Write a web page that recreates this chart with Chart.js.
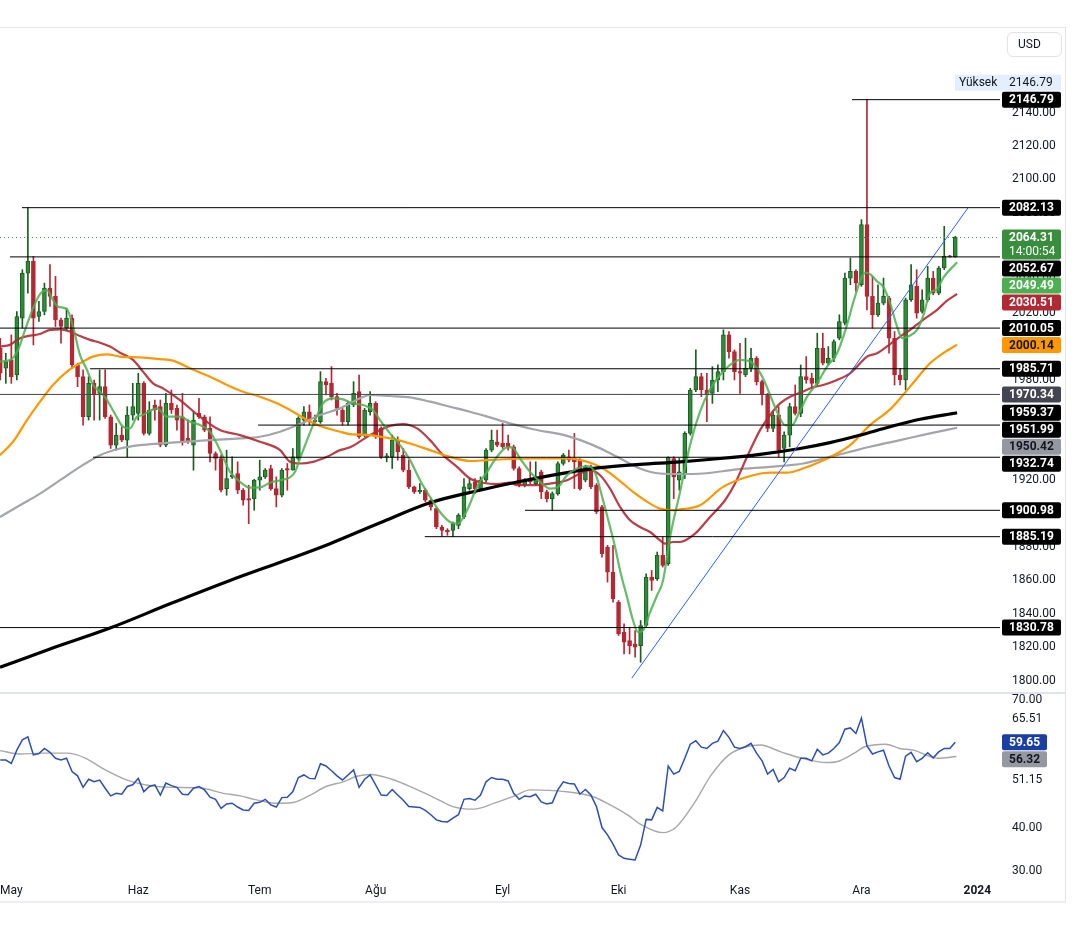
<!DOCTYPE html>
<html>
<head>
<meta charset="utf-8">
<script src="https://cdn.jsdelivr.net/npm/chart.js@4.4.1/dist/chart.umd.min.js"></script>
<style>
  html,body{margin:0;background:#fff;}
  body{width:1077px;height:939px;position:relative;overflow:hidden;font-family:Roboto,"Noto Sans",sans-serif;}
  .frame{position:absolute;left:0;top:27px;width:1066px;height:876px;border-top:1px solid #e0e3eb;border-right:1px solid #e0e3eb;border-bottom:2px solid #eceef3;box-sizing:border-box;}
  .sep{position:absolute;left:0;top:692px;width:1066px;height:2px;background:#e0e3eb;}
  canvas{position:absolute;left:0;}
  #price{top:28px;}
  #rsi{top:694px;}
  .usd{position:absolute;left:1007px;top:32px;width:55px;height:25px;box-sizing:border-box;border:1px solid #e0e3eb;border-radius:6px;font-size:12px;line-height:23px;padding-left:10px;color:#131722;}
</style>
</head>
<body>
<div class="frame"></div>
<canvas id="price" width="1066" height="665"></canvas>
<div class="sep"></div>
<canvas id="rsi" width="1066" height="207"></canvas>
<div class="usd">USD</div>
<script>
// daily bars, bar 0 = 1 May 2023, first bar = 27 Apr, last = 26 Dec
const firstBar = -2;
const opens = [
1998,1986,1991,1982,2016,2043,2050,2017,2020,2034,
2029,2015,2010,2016,1988,1981,1957,1977,1971,1975,
1957,1940,1946,1943,1958,1959,1977,1947,1964,1963,
1940,1965,1962,1957,1944,1940,1959,1957,1950,1935,
1932,1914,1921,1923,1913,1908,1908,1919,1921,1926,
1914,1910,1926,1925,1932,1955,1960,1955,1954,1978,
1977,1969,1961,1954,1964,1972,1946,1960,1965,1950,
1933,1933,1943,1934,1925,1915,1912,1913,1907,1902,
1891,1889,1889,1892,1897,1914,1918,1914,1919,1937,
1942,1941,1941,1939,1926,1916,1920,1917,1924,1912,
1908,1911,1929,1933,1932,1931,1919,1927,1916,1903,
1879,1864,1846,1828,1823,1821,1820,1832,1861,1860,
1874,1869,1932,1919,1923,1947,1973,1981,1973,1971,
1979,1984,2006,1996,1984,1982,1986,1992,1978,1970,
1950,1958,1938,1946,1963,1959,1981,1980,1977,1998,
1989,1992,2004,2013,2040,2044,2036,2072,2029,2018,
2025,2028,2004,1982,1979,2027,2035,2020,2027,2040,
2031,2046,2053.2,2052.7];
const highs = [
2004,1995,2006,2020,2045,2082.13,2053,2026,2037,2048,
2041,2016,2022,2018,1989,1985,1981,1979,1985,1985,
1958,1953,1951,1963,1977,1983,1978,1966,1967,1967,
1971,1973,1964,1971,1955,1960,1968,1958,1957,1936,
1934,1937,1933,1930,1914,1916,1919.5,1931,1926,1928,
1921,1926,1929,1938,1957,1963,1964,1958,1984,1980,
1987,1971,1962,1966,1978,1982,1962,1972,1966,1951,
1935,1946,1945,1938,1931,1915.5,1917,1914,1908,1902.5,
1892,1890,1894,1899,1920,1920,1920,1921,1938,1949,
1949,1953,1946,1940,1927,1920,1930,1930,1925,1913,
1912,1930,1935,1937,1947,1932,1928,1928,1917,1904,
1880,1880,1847,1833,1831,1829,1835,1863,1865,1876,
1885,1933,1933,1932,1948,1974,1997,1983,1983,1987,
1988,2009,2008,1997,2001,2004,1998,1993,1979,1971,
1960,1963,1948,1965,1976,1988,1993,1983,2007,2007,
1999,2003,2018,2043,2052,2045,2075,2146.79,2041,2036,
2040,2029,2008,1986,2028,2048,2045,2033,2047,2044,
2047,2071,2053.6,2065];
const lows = [
1979,1977,1977,1979,2010,2031,2000,2014,2018,2023,
2011,2001,2009,1986,1975,1952,1955,1955,1955,1956,
1938,1937,1942,1932.8,1955,1955,1946,1946,1955,1939,
1939,1959,1949,1940,1941,1925,1956,1948,1930,1925,
1912,1910,1920,1911,1904,1893,1901,1913,1920,1913,
1903,1909,1913,1925,1931,1952,1952,1952,1953,1970,
1967,1958,1952,1952,1963,1944,1945,1958,1944,1932,
1930,1926,1931,1924,1914,1911,1911,1906,1901,1890,
1885.5,1886,1885.19,1890,1896,1913,1911,1913,1918,1936,
1939,1938,1937,1925,1915,1915,1917,1916,1908,1906,
1901,1910,1928,1930,1914,1913,1918,1914,1899,1873,
1858,1846,1826,1815,1815,1813,1810,1831,1853,1859,
1867,1868,1908,1913,1920,1946,1972,1969,1954,1965,
1972,1979,1992,1979,1971,1981,1984,1976,1964,1948,
1948,1933,1930,1939,1958,1957,1977,1974,1976,1988,
1988,1990,2003,2012,2036,2032,2035,2021,2010,2017,
2024,1995,1976,1976,1973,2026,2016,2019,2026,2030,
2030,2045,2052.5,2052.5];
const closes = [
1983,1990,1981,2017,2043,2050,2016,2020,2034,2029,
2015,2011,2016,1988,1981,1957,1977,1970,1975,1957,
1940,1946,1943,1958,1963,1977,1947,1961,1961,1940,
1965,1961,1955,1942,1942,1955,1957,1949,1935,1932,
1913,1920,1922,1913,1907,1907,1919,1921,1925,1914,
1910,1925,1925,1933,1956,1960,1955,1954,1978,1976,
1969,1962,1954,1965,1971,1945,1961,1965,1945,1933,
1933.5,1943,1936,1925,1915,1912,1913,1907,1903,1891,
1889,1888,1893,1898,1915,1917,1914,1919,1937,1943,
1940,1939,1939,1926,1916,1919,1918,1921,1912,1908,
1911,1929,1934,1931,1930,1914,1927,1915,1900,1875,
1864,1848,1827,1822,1820,1819,1832,1861,1859,1874,
1868,1932.74,1921,1924,1947,1973,1981,1973,1970,1979,
1984,2006,1996,1984,1983,1986,1992,1978,1970,1950,
1958,1937,1946,1963,1959,1981,1979,1977,1998,1989,
1992,2002,2014,2040,2044,2037,2072,2029,2018,2025,
2029,2004,1982,1979,2027,2036,2019,2027,2040,2031,
2046,2053,2052.67,2064.31];

// moving averages (bar position, value)
const fastAt = [-2.05,-0.24,1.21,2.48,3.93,5.2,6.47,7.55,8.46,10.09,11.18,12.45,13.71,14.8,16.07,17.34,18.79,20.24,21.5,22.77,23.86,25.13,26.39,28.2,30.56,32.37,34.18,35.99,37.81,39.62,41.43,43.24,45.05,46.87,48.68,50.49,51.4,52.3,53.57,54.66,56.47,58.28,60.09,61.9,63.71,65.53,66.79,68.6,70.42,72.23,74.04,75.85,77.66,79.47,80.92,82.55,84.36,86.18,87.99,89.8,90.71,92.16,93.97,95.78,97.59,99.04,100.67,102.48,104.29,105.74,107.19,108.46,109.37,110.27,111.54,112.63,113.53,114.44,115.71,116.97,118.06,119.33,121.14,122.95,124.76,126.58,128.39,130.2,132.01,133.82,135.09,136.18,137.45,138.71,140.16,141.43,142.52,144.15,145.96,147.77,149.58,151.39,152.48,153.75,154.66,155.56,156.83,157.92,159.19,160.45,161.36,162.45,164.08,165.16,166.43,167.7,168.79,171.33];
const fastVal = [1990,1990.9,1996.9,2008.9,2021.9,2030.4,2032.8,2026.9,2022.9,2021.3,2010.9,1993.9,1985,1976,1972,1967,1958.6,1951,1950,1957,1958,1960.6,1962,1957,1957,1954,1952,1948,1937,1924,1918,1914.5,1914.7,1917.5,1919,1920.7,1924,1932,1943,1952,1965,1968,1967.4,1965,1964,1961,1955,1947,1940,1931,1919,1909,1900,1894,1893,1901,1915,1924,1933,1938.7,1938.7,1932,1924,1918,1914,1915,1922,1926,1927.5,1923.5,1907,1891,1879,1865,1849,1835,1828,1829,1840,1850,1859,1885,1912,1940,1960,1973.4,1982,1988,1991,1990,1986,1980,1970,1960,1952,1952,1958,1969,1977,1987,1995,2012,2025,2038,2043.2,2042.4,2038,2035,2025,2011,2004,2005,2009,2017,2031,2033.3,2040,2049.49];
const midAt = [-2.05,-0.24,1.58,3.39,5.2,7.01,8.82,10.63,12.45,14.26,16.07,17.88,19.69,22.05,23.86,25.67,27.48,30.56,34.18,37.81,41.43,45.05,48.68,50.49,52.3,54.66,57.19,59.55,61.36,64.98,68.6,70.96,73.5,75.85,78.21,80.74,83.1,85.45,87.99,90.34,91.61,94.51,97.59,100.67,103.03,104.84,106.65,108.46,110.27,112.08,113.89,115.71,117.52,118.42,119.87,121.14,123.86,126.58,129.29,131.1,133.28,135.63,137.45,139.26,141.07,143.43,145.24,147.05,149.58,151.94,153.2,155.0,156.83,159.19,161.0,162.81,165.16,167.7,169.51,171.33];
const midVal = [1999,2000,2004,2005.5,2006.5,2009,2009.3,2008,2005.3,2003,2001.3,1999,1995.3,1991,1984,1977,1974,1967,1957,1949,1946,1942,1937,1930,1929,1930,1933,1937,1938.7,1946,1951.5,1952.6,1950,1943,1934,1927,1920,1917.5,1916.7,1917.5,1916,1916,1917,1919,1923,1925,1922,1914,1903,1895,1891,1888,1883,1881,1882,1882,1887,1897,1907,1917,1933,1949,1958,1965,1969,1972,1974.6,1976,1979,1983,1987,1993,1995,2000.5,2005,2009,2015,2021,2026.5,2030.51];
const ma50At = [-2.05,0.31,2.84,5.2,7.55,10.09,12.45,14.8,17.34,19.69,23.31,26.93,29.29,32.37,35.99,39.07,41.97,45.05,48.13,51.03,53.57,55.92,59.55,61.36,64.98,68.6,72.23,75.85,79.47,83.1,86.18,90.34,94.51,100.67,103.57,106.65,109.73,112.63,115.71,117.52,119.87,121.14,124.76,128.93,134.37,137.45,140.53,143.43,146.51,149.58,151.94,155.56,159.19,162.81,166.43,168.79,171.33];
const ma50Val = [1934,1942,1955,1966,1976,1984,1989,1993,1994.3,1993,1992.5,1991.5,1990.6,1986,1981,1976,1972,1969,1965,1960,1955,1951.4,1948,1946.6,1946,1944,1941,1937,1933,1930.5,1931,1931.7,1932,1932,1930.7,1927,1920,1912,1905,1902,1901,1901.5,1904,1915,1922,1923.5,1923.5,1926,1930,1935,1940,1952,1961.4,1975,1989,1995,2000.14];
const ma100At = [-2.05,1.58,5.2,8.82,12.45,16.07,19.69,23.31,26.93,35.99,41.43,45.05,48.68,52.3,55.92,59.55,61.36,63.17,64.98,68.6,72.23,75.85,79.47,83.1,86.7,90.34,94.51,100.67,105.38,109.73,113.89,117.52,121.14,125.31,131.47,137.45,143.43,148.32,151.94,155.56,161.0,166.43,171.33];
const ma100Val = [1897,1904,1911,1919,1927,1934,1938,1940,1941,1943,1944,1945,1948,1952.6,1958,1962,1965,1968,1970,1969.4,1968.6,1966,1963,1960,1956.6,1953,1949.5,1945.5,1940,1933,1926,1923,1922.7,1923,1925.5,1927,1929,1933,1936,1939,1943,1947,1950.42];
const ma200At = [-2.05,7.01,17.88,28.75,39.62,50.49,57.74,66.79,75.85,84.9,90.34,100.67,106.65,113.89,121.14,128.39,135.63,142.88,148.32,153.75,159.19,164.62,171.33];
const ma200Val = [1807,1818,1830.5,1845,1859,1872,1881,1893.5,1905.5,1913,1917,1923.5,1926.5,1928.5,1930,1932,1934.5,1938,1941.5,1946,1951,1955.5,1959.37];

// horizontal levels and their start bar
const levelPrice = [2146.79,2082.13,2052.67,2010.05,1985.71,1970.34,1951.99,1932.74,1900.98,1885.19,1830.78];
const levelFrom  = [152.3,1.94,-0.24,-2.05,14.26,-2.05,44.7,14.8,93.06,74.9,-2.05];
const trendAt = [112.4,173.3];
const trendVal = [1800.5,2082];
const lastPrice = 2064.31;
const countdown = '14:00:54';
const rangeHigh = 2146.79;

// RSI per bar and its average
const rsi = [
55.5,55.5,54.7,57.8,60.2,60.9,56.7,57,58.2,57.3,
55.9,55.5,55.9,52.8,51.8,49.1,51,50.4,50.8,48.9,
47.1,47.7,47.5,49.3,49.7,51.2,48.1,49.3,49.7,47.3,
50.1,49.5,49.1,47.5,47.4,48.9,49.3,48.5,46.8,46.3,
44.2,45.2,45.4,44.5,43.8,43.7,45.4,45.6,46.3,45,
44.5,46.7,46.8,48.1,51.4,52,51.2,51.1,54.6,54.1,
53,51.8,50.8,52,53.2,49.1,51,52,49.7,47.3,
47.2,48.6,47.3,46.1,44.6,44.5,44.4,43.7,42.7,41.5,
41.1,41,41.9,42.7,46.3,46.5,46.1,47.3,50.4,51.4,
51,51,50.6,47.7,46.3,47.1,46.9,47.5,45.7,45.2,
45.5,48.5,50.4,50.0,49.9,47.5,48.6,47.3,44.6,39.7,
38.0,35.8,33.3,32.5,32.3,32.1,35.6,41.6,41.5,44.4,
43.6,54.1,52.2,52.8,55.9,59.2,60.0,58.5,58.2,59.4,
59.9,62.4,60.8,58.5,58.2,58.6,59.4,57.1,55.3,52.2,
53.3,50.4,51.4,53.6,53.0,55.9,55.9,55.3,58.0,56.7,
57.1,58.2,59.6,62.7,63.0,61.7,65.3,58.8,56.9,57.4,
57.8,54.1,51.4,51.0,56.4,57.3,55.1,55.9,57.2,56.0,
57.4,58.2,58.2,59.65];
const rsiMaAt = [-2.05,1.7,5.4,10.1,13.5,16.6,21,24.7,29,34,38.4,41.5,44,47.7,50.8,53.9,57,60.1,62.6,65.1,68.9,72.6,76.3,80,83.8,87.5,91.2,94,100.3,105.4,108.5,111.7,114.2,118,120.5,123.7,126.8,130,133.1,135.7,139.4,143.2,147.6,149.5,152.7,154.6,158.4,160.9,163.4,167.8,171.2];
const rsiMaVal = [57.7,56.9,57.1,57.1,55.9,53.5,50.8,49.6,49.1,49.0,47.7,47.1,46.3,45.4,45.5,47.1,49.3,50.4,51.7,52.1,51.0,49.1,46.9,44.6,44.0,45.4,47.1,48.5,48.1,46.9,45.0,42.6,40.3,38.5,39.9,45.4,52.0,56.7,58.6,59.0,57.4,55.9,54.9,55.1,57.1,58.6,59.2,58.2,57.8,55.9,56.32];

const monthAt = [0,23,45,66,89,110,132,154,175];
const monthNames = ['May','Haz','Tem','Ağu','Eyl','Eki','Kas','Ara','2024'];
const priceTicks = [1800,1820,1840,1860,1880,1900,1920,1940,1960,1980,2000,2020,2040,2060,2080,2100,2120,2140];
const rsiTicks = [30,40,51.15,65.51,70];

// ---------- drawing ----------
Chart.defaults.font.family = 'Roboto, "Noto Sans", sans-serif';
Chart.defaults.font.size = 12;
Chart.defaults.color = '#131722';

const X_MIN = -2.05, X_MAX = 179.1;
const GREEN = '#2e8b3a', GREEN_D = '#1b5e20', RED = '#b22833';
const bars = opens.map((_, i) => firstBar + i);
const up = opens.map((o, i) => closes[i] >= o);
const pts = (at, val) => at.map((x, i) => ({x, y: val[i]}));
const line = (data, color, width, order, extra) => Object.assign({
  type: 'line', data, borderColor: color, borderWidth: width, pointRadius: 0,
  fill: false, cubicInterpolationMode: 'monotone', order
}, extra || {});

function fixY(s){ s.width = 66; s.paddingTop = 0; s.paddingBottom = 0; }

function roundRect(ctx, x, y, w, h, r){
  ctx.beginPath();
  ctx.moveTo(x + r, y); ctx.lineTo(x + w - r, y); ctx.quadraticCurveTo(x + w, y, x + w, y + r);
  ctx.lineTo(x + w, y + h - r); ctx.quadraticCurveTo(x + w, y + h, x + w - r, y + h);
  ctx.lineTo(x + r, y + h); ctx.quadraticCurveTo(x, y + h, x, y + h - r);
  ctx.lineTo(x, y + r); ctx.quadraticCurveTo(x, y, x + r, y); ctx.closePath();
}

const tagPlugin = {
  id: 'tags',
  afterDraw(chart, args, opts) {
    const {ctx, chartArea} = chart;
    const sc = chart.scales.y;
    const x0 = chartArea.right + 2, w = opts.width || 59, h = 16;
    ctx.save();
    ctx.textBaseline = 'middle';
    if (opts.high != null) {
      const yh = sc.getPixelForValue(opts.high) - 17;
      ctx.fillStyle = '#e3effd';
      ctx.fillRect(chartArea.right - 45, yh - h/2, 45 + w + 2, h);
      ctx.fillStyle = '#131722';
      ctx.font = '12px Roboto';
      ctx.fillText('Yüksek', chartArea.right - 41, yh + 0.5);
      ctx.fillText(opts.high.toFixed(2), x0 + 7, yh + 0.5);
    }
    let prev = -1e9;
    opts.items.forEach(t => {
      const hh = h + (t.lines.length - 1) * 14;
      let top = sc.getPixelForValue(t.v) - h/2;
      if (top < prev + 1) top = prev + 1;
      ctx.fillStyle = t.bg;
      roundRect(ctx, x0, top, w, hh, 2); ctx.fill();
      ctx.fillStyle = t.fg;
      t.lines.forEach((s, k) => {
        ctx.font = (k ? '' : 'bold ') + '12px Roboto';
        ctx.fillText(s, x0 + 7, top + h/2 + 0.5 + k * 14);
      });
      prev = top + hh;
    });
    ctx.restore();
  }
};

const blk = '#000000';
const tagStyle = {
  2064.31: ['#388e3c', '#fff'], 2049.49: ['#4caf50', '#fff'], 2030.51: ['#b22833', '#fff'],
  2000.14: ['#ff9800', '#131722'], 1970.34: ['#434651', '#fff'], 1950.42: ['#9598a1', '#131722']
};
const tagVals = [2146.79,2082.13,2064.31,2052.67,2049.49,2030.51,2010.05,2000.14,1985.71,1970.34,1959.37,1951.99,1950.42,1932.74,1900.98,1885.19,1830.78];
const priceTags = tagVals.map(v => {
  const st = tagStyle[v] || [blk, '#fff'];
  const lines = v === lastPrice ? [v.toFixed(2), countdown] : [v.toFixed(2)];
  return {v, bg: st[0], fg: st[1], lines};
});

const levelSets = levelPrice.map((p, i) => line(
  [{x: levelFrom[i], y: p}, {x: X_MAX, y: p}],
  p === 1970.34 ? '#434651' : '#000', 1, 0, {cubicInterpolationMode: 'default', tension: 0}));

new Chart(document.getElementById('price'), {
  type: 'bar',
  data: {
    datasets: [
      {type: 'bar', data: bars.map((x, i) => ({x, y: [lows[i], highs[i]]})),
       backgroundColor: up.map(u => u ? GREEN_D : RED), barThickness: 1, grouped: false, order: 6},
      {type: 'bar', data: bars.map((x, i) => ({x, y: [opens[i], closes[i]]})),
       backgroundColor: up.map(u => u ? GREEN : RED), borderColor: up.map(u => u ? GREEN_D : RED),
       borderWidth: 1, borderSkipped: false, barThickness: 4, minBarLength: 1, grouped: false, order: 5},
      line(pts(ma100At, ma100Val), '#a3a5ab', 2.2, 4),
      line(pts(ma50At, ma50Val), '#ff9800', 2.2, 3),
      line(pts(midAt, midVal), 'rgba(178,40,51,0.9)', 2.2, 3),
      line(pts(ma200At, ma200Val), '#000', 3.2, 2),
      line(pts(fastAt, fastVal), 'rgba(76,175,80,0.85)', 2.2, 1),
      ...levelSets,
      line([{x: X_MIN, y: lastPrice}, {x: X_MAX, y: lastPrice}], '#388e3c', 1, 0, {borderDash: [1, 3], cubicInterpolationMode: 'default'}),
      line(pts(trendAt, trendVal), '#2962ff', 1, 0, {cubicInterpolationMode: 'default'})
    ]
  },
  options: {
    responsive: false, animation: false, events: [],
    layout: {padding: 0},
    plugins: {legend: {display: false}, tooltip: {enabled: false},
      tags: {items: priceTags, high: rangeHigh}},
    scales: {
      x: {type: 'linear', min: X_MIN, max: X_MAX, offset: false, display: false},
      y: {position: 'right', min: 1791.62, max: 2189.69,
        grid: {display: false, drawTicks: false}, border: {display: false},
        afterBuildTicks: s => { s.ticks = priceTicks.map(v => ({value: v})); },
        afterFit: fixY,
        ticks: {padding: 12, labelOffset: 1.5, autoSkip: false, callback: v => Number(v).toFixed(2)}}
    }
  },
  plugins: [tagPlugin]
});

new Chart(document.getElementById('rsi'), {
  type: 'line',
  data: {
    datasets: [
      line(pts(rsiMaAt, rsiMaVal), '#a8a8a8', 1.4, 2),
      line(bars.map((x, i) => ({x, y: rsi[i]})), '#2c4fb3', 1.5, 1, {cubicInterpolationMode: 'default', tension: 0})
    ]
  },
  options: {
    responsive: false, animation: false, events: [],
    layout: {padding: 0},
    plugins: {legend: {display: false}, tooltip: {enabled: false},
      tags: {width: 45, items: [{v: 59.65, bg: '#1a3fa3', fg: '#fff', lines: ['59.65']},
                     {v: 56.32, bg: '#9598a1', fg: '#131722', lines: ['56.32']}]}},
    scales: {
      x: {type: 'linear', min: X_MIN, max: X_MAX, offset: false,
        grid: {display: false, drawTicks: false}, border: {display: false},
        afterBuildTicks: s => { s.ticks = monthAt.map(v => ({value: v})); },
        afterFit: s => { s.height = 24; s.paddingLeft = 0; s.paddingRight = 0; },
        ticks: {padding: 7, autoSkip: false, maxRotation: 0,
          font: c => ({size: 12, weight: c.tick && c.tick.value === 175 ? 'bold' : 'normal'}),
          callback: v => monthNames[monthAt.indexOf(v)]}},
      y: {position: 'right', min: 28.13, max: 70.94,
        grid: {display: false, drawTicks: false}, border: {display: false},
        afterBuildTicks: s => { s.ticks = rsiTicks.map(v => ({value: v})); },
        afterFit: fixY,
        ticks: {padding: 12, labelOffset: 1.5, autoSkip: false, callback: v => Number(v).toFixed(2)}}
    }
  },
  plugins: [tagPlugin]
});
</script>
</body>
</html>
